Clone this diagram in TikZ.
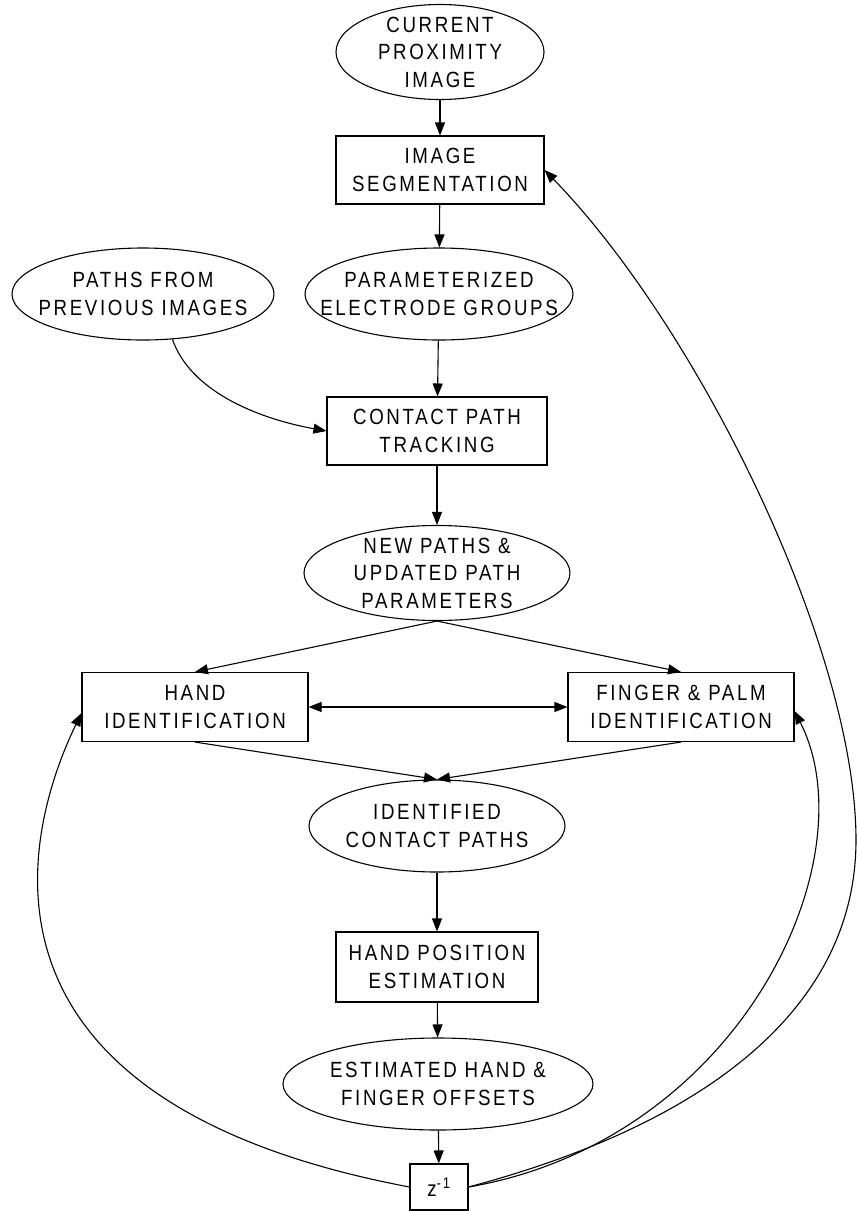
\documentclass[tikz,border=0pt]{standalone}
\usepackage{fontspec}
\setmainfont{Liberation Sans}[FakeStretch=0.85, LetterSpace=12]
\usetikzlibrary{shapes.geometric,arrows.meta}
\begin{document}
\begin{tikzpicture}[x=1pt,y=-1pt, line width=1.1pt,
  ell/.style={draw, ellipse, inner sep=0pt},
  box/.style={draw, rectangle, inner sep=0pt, align=center, font=\fontsize{22}{27.5}\selectfont},
  txt/.style={align=center, font=\fontsize{22}{27.5}\selectfont, inner sep=0pt},
  arr/.style={-{Triangle[length=13pt,width=10pt]}},
  darr/.style={{Triangle[length=13pt,width=10pt]}-{Triangle[length=13pt,width=10pt]}}]
\useasboundingbox (0,0) rectangle (857,1211);
\fill[white] (0,0) rectangle (857,1211);

% nodes
\node[ell, minimum width=208pt, minimum height=95pt] (cur) at (440,52) {};
\node[txt] (curt) at (cur.center) {CURRENT\\PROXIMITY\\IMAGE};
\node[box, minimum width=208pt, minimum height=68pt] (seg) at (440,170) {IMAGE\\SEGMENTATION};
\node[ell, minimum width=262pt, minimum height=92pt] (prev) at (143,294) {};
\node[txt] (prevt) at (prev.center) {PATHS FROM\\PREVIOUS IMAGES};
\node[ell, minimum width=268pt, minimum height=92pt] (par) at (439,294) {};
\node[txt] (part) at (par.center) {PARAMETERIZED\\ELECTRODE GROUPS};
\node[box, minimum width=220pt, minimum height=68pt] (cpt) at (437,431) {CONTACT PATH\\TRACKING};
\node[ell, minimum width=266pt, minimum height=95pt] (new) at (437,573) {};
\node[txt] (newt) at (new.center) {NEW PATHS \&\\UPDATED PATH\\PARAMETERS};
\node[box, minimum width=226pt, minimum height=69pt] (hand) at (195,707) {HAND\\IDENTIFICATION};
\node[box, minimum width=226pt, minimum height=69pt] (fing) at (681,707) {FINGER \& PALM\\IDENTIFICATION};
\node[ell, minimum width=256pt, minimum height=92pt] (ident) at (437,826) {};
\node[txt] (identt) at (ident.center) {IDENTIFIED\\CONTACT PATHS};
\node[box, minimum width=202pt, minimum height=70pt] (hpe) at (437,967) {HAND POSITION\\ESTIMATION};
\node[ell, minimum width=310pt, minimum height=92pt] (est) at (438,1084) {};
\node[txt] (estt) at (est.center) {ESTIMATED HAND \&\\FINGER OFFSETS};
\node[box, minimum width=58pt, minimum height=46pt] (z) at (439,1187) {z\textsuperscript{-1}};

% straight connectors
\draw[arr] (cur) -- (seg);
\draw[arr] (seg) -- (par);
\draw[arr] (par) -- (cpt);
\draw[arr] (cpt) -- (new);
\draw[arr] (new.south) -- (hand.north);
\draw[arr] (new.south) -- (fing.north);
\draw[darr] (hand.east) -- (fing.west);
\draw[arr] (hand.south) -- (ident.north);
\draw[arr] (fing.south) -- (ident.north);
\draw[arr] (ident) -- (hpe);
\draw[arr] (hpe) -- (est);
\draw[arr] (est) -- (z);

% curved connectors
\draw[arr] (prev.-57) .. controls (190,390) and (255,418) .. (cpt.west);
\draw[arr] (z.west) .. controls (-50,1100) and (25,830) .. ([yshift=-6pt]hand.west);
\draw[arr] (z.east) .. controls (740,1140) and (870,860) .. ([yshift=-4pt]fing.east);
\coordinate (rw) at (856,840);
\draw[arr] (z.east) .. controls (720,1120) and (856,1000) .. (rw)
  .. controls (856,650) and (700,330) .. (seg.east);
\end{tikzpicture}
\end{document}
